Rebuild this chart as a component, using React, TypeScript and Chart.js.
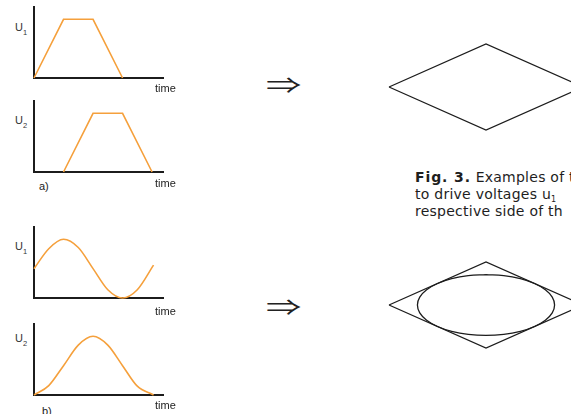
import React, { useEffect, useRef } from "react";
import { Chart, registerables } from "chart.js";

Chart.register(...registerables);

// a) trapezoidal drive voltages (time in arbitrary units, voltage normalised)
const trapU1Time = [0, 1, 2, 3];
const trapU1 = [0, 1, 1, 0];
const trapU2Time = [1, 2, 3, 4];
const trapU2 = [0, 1, 1, 0];

// b) smooth drive voltages
const waveTime = [0, 0.5, 1, 1.5, 2, 2.5, 3, 3.5, 4.05];
const waveU1 = [0.5, 0.84, 1, 0.86, 0.5, 0.14, 0, 0.14, 0.56];
const waveU2 = [0, 0.16, 0.5, 0.85, 1, 0.85, 0.5, 0.15, 0];

// resulting paths in the (u1, u2) plane
const rhombusX = [-1, 0, 1, 0, -1];
const rhombusY = [0, 1, 0, -1, 0];
const ellipseX = [
  0, 0.183, 0.354, 0.5, 0.612, 0.683, 0.707, 0.683, 0.612, 0.5, 0.354, 0.183,
  0, -0.183, -0.354, -0.5, -0.612, -0.683, -0.707, -0.683, -0.612, -0.5, -0.354, -0.183, 0,
];
const ellipseY = [
  0.707, 0.683, 0.612, 0.5, 0.354, 0.183, 0, -0.183, -0.354, -0.5, -0.612, -0.683,
  -0.707, -0.683, -0.612, -0.5, -0.354, -0.183, 0, 0.183, 0.354, 0.5, 0.612, 0.683, 0.707,
];

const TIME_MAX = 4.37;
const U_MAX = 1.21;

const ORANGE = "#f5a03c";
const INK = "#1c1c1c";

const zip = (xs: number[], ys: number[]) => xs.map((x, i) => ({ x, y: ys[i] }));

type MiniProps = { top: number; xs: number[]; ys: number[]; smooth?: boolean };

const AREA_LEFT = 34;
const AREA_W = 129;
const AREA_H = 71;
const PAD = 6;

function SignalChart({ top, xs, ys, smooth }: MiniProps) {
  const ref = useRef<HTMLCanvasElement>(null);
  useEffect(() => {
    const axis = (min: number, max: number) => ({
      type: "linear" as const,
      min,
      max,
      grid: { display: false, drawTicks: false },
      ticks: { display: false },
      border: { display: true, color: INK, width: 2 },
    });
    const chart = new Chart(ref.current!, {
      type: "line",
      data: {
        datasets: [
          {
            data: zip(xs, ys),
            borderColor: ORANGE,
            borderWidth: 1.6,
            pointRadius: 0,
            fill: false,
            cubicInterpolationMode: smooth ? "monotone" : "default",
            tension: 0,
            clip: false as any,
          },
        ],
      },
      options: {
        responsive: false,
        animation: false,
        events: [],
        layout: { padding: PAD },
        plugins: { legend: { display: false }, tooltip: { enabled: false } },
        scales: { x: axis(0, TIME_MAX), y: axis(0, U_MAX) },
      },
    });
    return () => chart.destroy();
  }, []);
  return (
    <canvas
      ref={ref}
      width={AREA_W + 2 * PAD}
      height={AREA_H + 2 * PAD}
      style={{ position: "absolute", left: AREA_LEFT - PAD, top: top - PAD }}
    />
  );
}

type PathProps = { top: number; withEllipse?: boolean };
const PATH_LEFT = 389;
const PATH_W = 194;
const PATH_H = 86;
const PPAD = 4;

function PathChart({ top, withEllipse }: PathProps) {
  const ref = useRef<HTMLCanvasElement>(null);
  useEffect(() => {
    const sets: any[] = [
      {
        data: zip(rhombusX, rhombusY),
        borderColor: INK,
        borderWidth: 1.3,
        pointRadius: 0,
        showLine: true,
        tension: 0,
        clip: false,
      },
    ];
    if (withEllipse) {
      sets.push({
        data: zip(ellipseX, ellipseY),
        borderColor: INK,
        borderWidth: 1.3,
        pointRadius: 0,
        showLine: true,
        tension: 0.4,
        clip: false,
      });
    }
    const chart = new Chart(ref.current!, {
      type: "scatter",
      data: { datasets: sets },
      options: {
        responsive: false,
        animation: false,
        events: [],
        layout: { padding: PPAD },
        plugins: { legend: { display: false }, tooltip: { enabled: false } },
        scales: {
          x: { type: "linear", min: -1, max: 1, display: false },
          y: { type: "linear", min: -1, max: 1, display: false },
        },
      },
    });
    return () => chart.destroy();
  }, []);
  return (
    <canvas
      ref={ref}
      width={PATH_W + 2 * PPAD}
      height={PATH_H + 2 * PPAD}
      style={{ position: "absolute", left: PATH_LEFT - PPAD, top: top - PPAD }}
    />
  );
}

type TxtProps = {
  x: number;
  base: number;
  size: number;
  family?: string;
  color?: string;
  style?: React.CSSProperties;
  children: React.ReactNode;
};

function Txt({
  x,
  base,
  size,
  family = "'Liberation Sans', Arial, sans-serif",
  color = "#222",
  style,
  children,
}: TxtProps) {
  return (
    <span
      style={{
        position: "absolute",
        left: x,
        top: base - 0.846 * size,
        fontSize: size,
        lineHeight: `${size}px`,
        fontFamily: family,
        color,
        whiteSpace: "nowrap",
        ...style,
      }}
    >
      {children}
    </span>
  );
}

function ULabel({ base, sub }: { base: number; sub: string }) {
  return (
    <>
      <Txt x={15} base={base} size={11} color="#333">U</Txt>
      <Txt x={23} base={base + 4} size={7.5} color="#333">{sub}</Txt>
    </>
  );
}

const CAPTION_FONT = "'DejaVu Sans', sans-serif";
const ARROW_FONT = "'Noto Sans CJK JP', 'DejaVu Sans', sans-serif";
const captionStyle: React.CSSProperties = { letterSpacing: "0.25px" };
const arrowStyle: React.CSSProperties = {
  transform: "scale(1.04, 0.64)",
  transformOrigin: "left center",
};

export default function App() {
  return (
    <div
      style={{
        position: "absolute",
        left: 0,
        top: 0,
        width: 571,
        height: 414,
        overflow: "hidden",
        background: "#fff",
      }}
    >
      <SignalChart top={7} xs={trapU1Time} ys={trapU1} />
      <SignalChart top={101} xs={trapU2Time} ys={trapU2} />
      <SignalChart top={227} xs={waveTime} ys={waveU1} smooth />
      <SignalChart top={324} xs={waveTime} ys={waveU2} smooth />

      <ULabel base={31} sub="1" />
      <ULabel base={124} sub="2" />
      <ULabel base={250} sub="1" />
      <ULabel base={342} sub="2" />

      <Txt x={155} base={92} size={11}>time</Txt>
      <Txt x={155} base={187} size={11}>time</Txt>
      <Txt x={155} base={315} size={11}>time</Txt>
      <Txt x={155} base={409} size={11}>time</Txt>

      <Txt x={39} base={190} size={11}>a)</Txt>
      <Txt x={42} base={415} size={11}>b)</Txt>

      <Txt x={266} base={96} size={34} family={ARROW_FONT} color="#222" style={arrowStyle}>⇒</Txt>
      <Txt x={266} base={318} size={34} family={ARROW_FONT} color="#222" style={arrowStyle}>⇒</Txt>

      <PathChart top={44} />
      <PathChart top={262} withEllipse />

      <Txt x={415} base={182} size={14} family={CAPTION_FONT} color="#1e1e1e" style={captionStyle}>
        <b style={{ letterSpacing: "0.9px" }}>Fig. 3.</b> Examples of t
      </Txt>
      <Txt x={415} base={199} size={14} family={CAPTION_FONT} color="#1e1e1e" style={captionStyle}>
        to drive voltages u
        <span style={{ position: "relative", top: 3, fontSize: 8 }}>1</span>
      </Txt>
      <Txt x={415} base={216} size={14} family={CAPTION_FONT} color="#1e1e1e" style={captionStyle}>
        respective side of th
      </Txt>
    </div>
  );
}
